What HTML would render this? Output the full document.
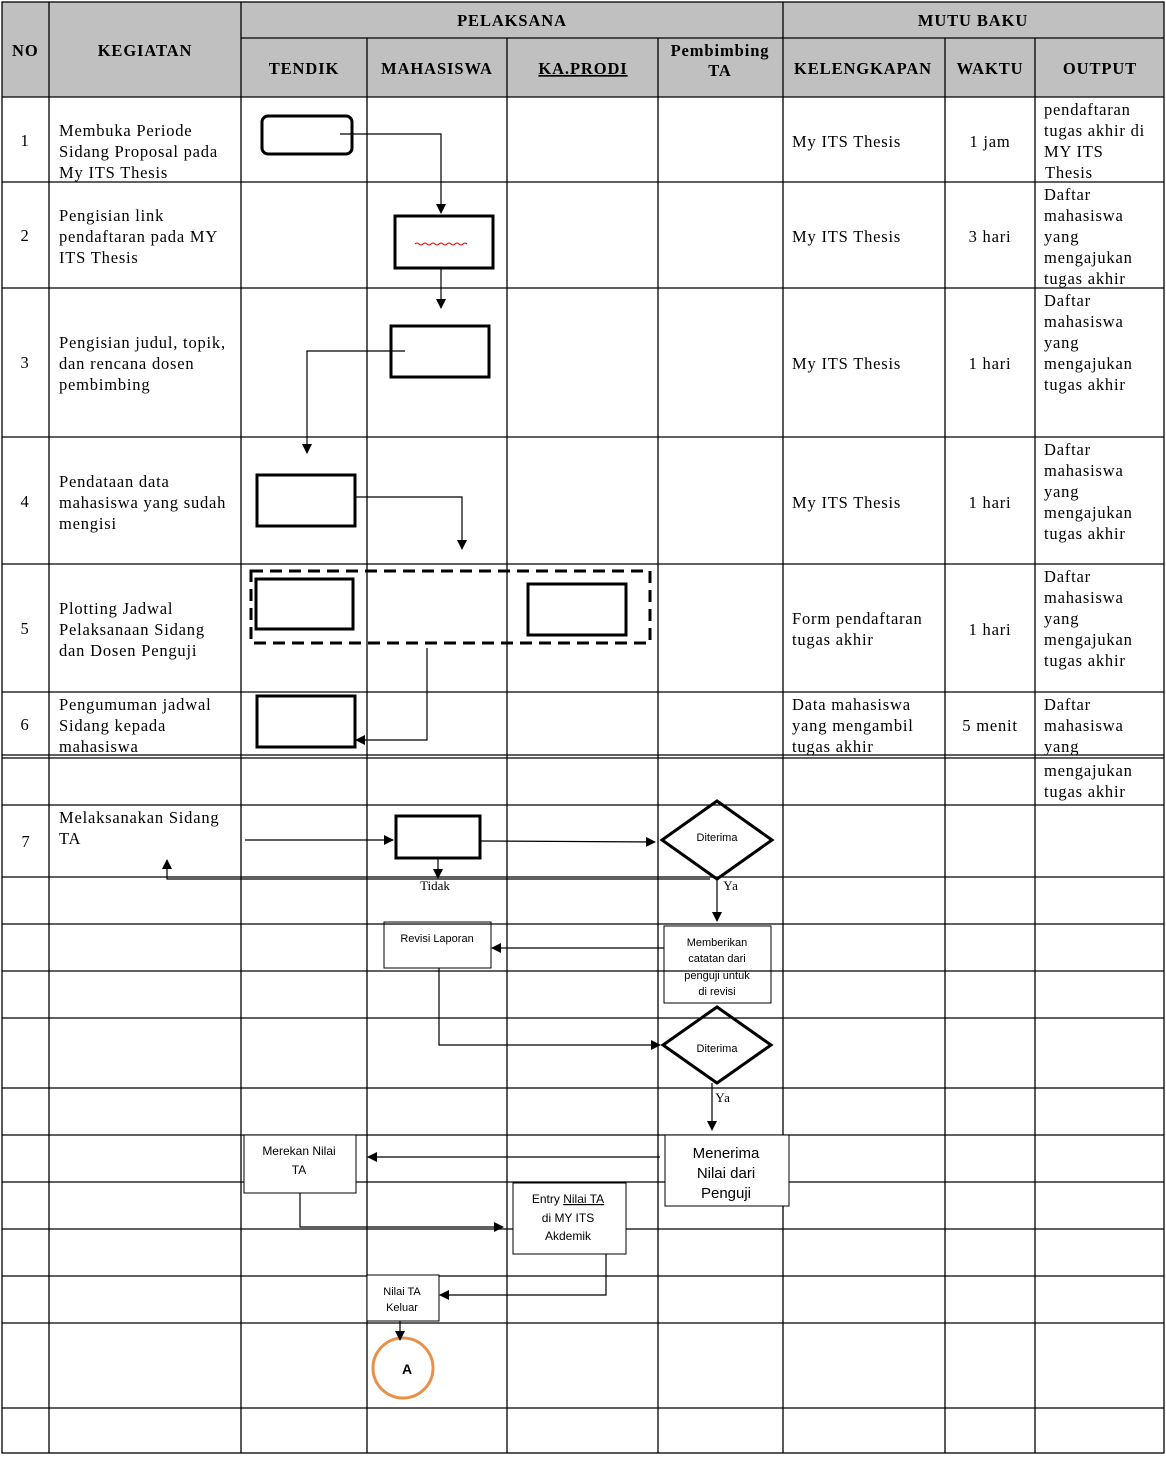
<!DOCTYPE html>
<html><head><meta charset="utf-8"><style>
html,body{margin:0;padding:0;background:#fff;}
svg{display:block;}
.s{font-family:"Liberation Serif",serif;font-size:16.5px;letter-spacing:0.8px;fill:#000;}
.h{font-family:"Liberation Serif",serif;font-size:16.5px;font-weight:bold;letter-spacing:0.9px;fill:#000;}
.a{font-family:"Liberation Sans",sans-serif;font-size:11px;fill:#000;}
.b{font-family:"Liberation Sans",sans-serif;font-size:15px;fill:#000;}
</style></head><body>
<svg width="1166" height="1460" viewBox="0 0 1166 1460" xmlns="http://www.w3.org/2000/svg">
<defs>
<marker id="ar" markerWidth="10" markerHeight="10" refX="9" refY="5" orient="auto" markerUnits="userSpaceOnUse">
<path d="M0,0 L10,5 L0,10 z" fill="#000"/></marker>
</defs>
<rect x="2" y="2" width="1162" height="95" fill="#c0c0c0"/>
<g stroke="#000" stroke-width="1.3" fill="none">
<rect x="2" y="2" width="1162" height="1451"/>
<line x1="241" y1="38" x2="1164" y2="38"/>
<line x1="2" y1="97" x2="1164" y2="97"/>
<line x1="2" y1="182" x2="1164" y2="182"/>
<line x1="2" y1="288" x2="1164" y2="288"/>
<line x1="2" y1="437" x2="1164" y2="437"/>
<line x1="2" y1="564" x2="1164" y2="564"/>
<line x1="2" y1="692" x2="1164" y2="692"/>
<line x1="2" y1="755" x2="1164" y2="755"/>
<line x1="2" y1="758" x2="1164" y2="758"/>
<line x1="2" y1="805" x2="1164" y2="805"/>
<line x1="2" y1="877" x2="1164" y2="877"/>
<line x1="2" y1="924" x2="1164" y2="924"/>
<line x1="2" y1="971" x2="1164" y2="971"/>
<line x1="2" y1="1018" x2="1164" y2="1018"/>
<line x1="2" y1="1088" x2="1164" y2="1088"/>
<line x1="2" y1="1135" x2="1164" y2="1135"/>
<line x1="2" y1="1182" x2="1164" y2="1182"/>
<line x1="2" y1="1229" x2="1164" y2="1229"/>
<line x1="2" y1="1276" x2="1164" y2="1276"/>
<line x1="2" y1="1323" x2="1164" y2="1323"/>
<line x1="2" y1="1408" x2="1164" y2="1408"/>
<line x1="49" y1="2" x2="49" y2="1453"/>
<line x1="241" y1="2" x2="241" y2="1453"/>
<line x1="367" y1="38" x2="367" y2="1453"/>
<line x1="507" y1="38" x2="507" y2="1453"/>
<line x1="658" y1="38" x2="658" y2="1453"/>
<line x1="783" y1="2" x2="783" y2="1453"/>
<line x1="945" y1="38" x2="945" y2="1453"/>
<line x1="1035" y1="38" x2="1035" y2="1453"/>
</g>
<text class="h" x="12" y="56">NO</text>
<text class="h" x="145" y="56" text-anchor="middle">KEGIATAN</text>
<text class="h" x="512" y="26" text-anchor="middle">PELAKSANA</text>
<text class="h" x="973" y="26" text-anchor="middle">MUTU BAKU</text>
<text class="h" x="304" y="74" text-anchor="middle">TENDIK</text>
<text class="h" x="437" y="74" text-anchor="middle">MAHASISWA</text>
<text class="h" x="583" y="74" text-anchor="middle" text-decoration="underline">KA.PRODI</text>
<text class="h" x="720" y="56" text-anchor="middle">Pembimbing</text>
<text class="h" x="720" y="76" text-anchor="middle">TA</text>
<text class="h" x="863" y="74" text-anchor="middle">KELENGKAPAN</text>
<text class="h" x="990" y="74" text-anchor="middle">WAKTU</text>
<text class="h" x="1100" y="74" text-anchor="middle">OUTPUT</text>
<g class="s" text-anchor="middle">
<text x="25" y="146">1</text><text x="25" y="241">2</text><text x="25" y="368">3</text>
<text x="25" y="507">4</text><text x="25" y="634">5</text><text x="25" y="730">6</text><text x="26" y="847">7</text>
</g>
<g class="s">
<text x="59" y="136">Membuka Periode</text><text x="59" y="157">Sidang Proposal  pada</text><text x="59" y="178">My ITS Thesis</text>
<text x="59" y="221">Pengisian link</text><text x="59" y="242">pendaftaran pada MY</text><text x="59" y="263">ITS Thesis</text>
<text x="59" y="348">Pengisian judul, topik,</text><text x="59" y="369">dan rencana dosen</text><text x="59" y="390">pembimbing</text>
<text x="59" y="487">Pendataan data</text><text x="59" y="508">mahasiswa yang sudah</text><text x="59" y="529">mengisi</text>
<text x="59" y="614">Plotting Jadwal</text><text x="59" y="635">Pelaksanaan Sidang</text><text x="59" y="656">dan Dosen Penguji</text>
<text x="59" y="710">Pengumuman jadwal</text><text x="59" y="731">Sidang kepada</text><text x="59" y="752">mahasiswa</text>
<text x="59" y="823">Melaksanakan Sidang</text><text x="59" y="844">TA</text>
</g>
<g class="s">
<text x="792" y="147">My ITS Thesis</text><text x="792" y="242">My ITS Thesis</text>
<text x="792" y="369">My ITS Thesis</text><text x="792" y="508">My ITS Thesis</text>
<text x="792" y="624">Form pendaftaran</text><text x="792" y="645">tugas akhir</text>
<text x="792" y="710">Data mahasiswa</text><text x="792" y="731">yang mengambil</text><text x="792" y="752">tugas akhir</text>
</g>
<g class="s" text-anchor="middle">
<text x="990" y="147">1 jam</text><text x="990" y="242">3 hari</text><text x="990" y="369">1 hari</text>
<text x="990" y="508">1 hari</text><text x="990" y="635">1 hari</text><text x="990" y="731">5 menit</text>
</g>
<g class="s">
<text x="1044" y="115">pendaftaran</text><text x="1044" y="136">tugas akhir di</text><text x="1044" y="157">MY ITS</text><text x="1045" y="178">Thesis</text>
<text x="1044" y="200">Daftar</text><text x="1044" y="221">mahasiswa</text><text x="1044" y="242">yang</text><text x="1044" y="263">mengajukan</text><text x="1044" y="284">tugas akhir</text>
<text x="1044" y="306">Daftar</text><text x="1044" y="327">mahasiswa</text><text x="1044" y="348">yang</text><text x="1044" y="369">mengajukan</text><text x="1044" y="390">tugas akhir</text>
<text x="1044" y="455">Daftar</text><text x="1044" y="476">mahasiswa</text><text x="1044" y="497">yang</text><text x="1044" y="518">mengajukan</text><text x="1044" y="539">tugas akhir</text>
<text x="1044" y="582">Daftar</text><text x="1044" y="603">mahasiswa</text><text x="1044" y="624">yang</text><text x="1044" y="645">mengajukan</text><text x="1044" y="666">tugas akhir</text>
<text x="1044" y="710">Daftar</text><text x="1044" y="731">mahasiswa</text><text x="1044" y="752">yang</text>
<text x="1044" y="776">mengajukan</text><text x="1044" y="797">tugas akhir</text>
</g>
<g stroke="#000" fill="none">
<rect x="262" y="116" width="90" height="38" rx="6" stroke-width="3"/>
<rect x="395" y="216" width="98" height="52" stroke-width="3"/>
<rect x="391" y="326" width="98" height="51" stroke-width="3"/>
<rect x="257" y="475" width="98" height="51" stroke-width="3"/>
<rect x="251" y="571" width="399" height="72" stroke-width="3" stroke-dasharray="12,7"/>
<rect x="256" y="579" width="97" height="50" stroke-width="3"/>
<rect x="528" y="584" width="98" height="51" stroke-width="3"/>
<rect x="257" y="696" width="98" height="51" stroke-width="3"/>
<rect x="396" y="816" width="84" height="42" stroke-width="3"/>
<polygon points="717,801 772,840 717,879 662,840" stroke-width="3"/>
<polygon points="717,1007 771,1045 717,1083 663,1045" stroke-width="3"/>
<rect x="384" y="922" width="107" height="46" stroke-width="1"/>
<rect x="664" y="926" width="107" height="77" stroke-width="1"/>
<rect x="665" y="1135" width="124" height="71" stroke-width="1" fill="#fff"/>
<rect x="244" y="1135" width="112" height="58" stroke-width="1" fill="#fff"/>
<rect x="513" y="1183" width="113" height="71" stroke-width="1" fill="#fff"/>
<rect x="367" y="1275" width="72" height="46" stroke-width="1" fill="#fff"/>
<circle cx="403" cy="1368" r="30" stroke="#e8914a" stroke-width="3"/>
</g>
<path d="M415,244 q2,-2 4,0 t4,0 t4,0 t4,0 t4,0 t4,0 t4,0 t4,0 t4,0 t4,0 t4,0 t4,0 t4,0" stroke="#d00" fill="none" stroke-width="1"/>
<g stroke="#000" stroke-width="1.2" fill="none" marker-end="url(#ar)">
<polyline points="340,134 441,134 441,213"/>
<line x1="441" y1="268" x2="441" y2="308"/>
<polyline points="405,351 307,351 307,453"/>
<polyline points="355,497 462,497 462,549"/>
<polyline points="427,648 427,740 356,740"/>
<line x1="245" y1="840" x2="393" y2="840"/>
<line x1="481" y1="841" x2="655" y2="842"/>
<line x1="438" y1="858" x2="438" y2="878"/>
<polyline points="710,879 167,879 167,860"/>
<line x1="717" y1="879" x2="717" y2="921"/>
<line x1="664" y1="948" x2="492" y2="948"/>
<polyline points="439,968 439,1045 660,1045"/>
<line x1="712" y1="1083" x2="712" y2="1130"/>
<line x1="660" y1="1157" x2="368" y2="1157"/>
<polyline points="300,1193 300,1227 503,1227"/>
<polyline points="606,1254 606,1295 440,1295"/>
<line x1="400" y1="1321" x2="400" y2="1340"/>
</g>
<text class="a" x="717" y="841" text-anchor="middle">Diterima</text>
<text class="a" x="717" y="1052" text-anchor="middle">Diterima</text>
<text class="s" x="435" y="890" text-anchor="middle" style="font-size:13px;letter-spacing:0">Tidak</text>
<text class="s" x="731" y="890" text-anchor="middle" style="font-size:13px">Ya</text>
<text class="s" x="723" y="1102" text-anchor="middle" style="font-size:13px">Ya</text>
<text class="a" x="437" y="942" text-anchor="middle">Revisi Laporan</text>
<g class="a" text-anchor="middle">
<text x="717" y="946">Memberikan</text><text x="717" y="962">catatan  dari</text><text x="717" y="979">penguji untuk</text><text x="717" y="995">di revisi</text>
</g>
<g class="b" text-anchor="middle">
<text x="726" y="1158">Menerima</text><text x="726" y="1178">Nilai dari</text><text x="726" y="1198">Penguji</text>
</g>
<g style="font-family:'Liberation Sans',sans-serif;font-size:12px" text-anchor="middle">
<text x="299" y="1155">Merekan Nilai</text><text x="299" y="1174">TA</text>
<text x="568" y="1203">Entry <tspan text-decoration="underline">Nilai  TA</tspan></text><text x="568" y="1222">di MY ITS</text><text x="568" y="1240">Akdemik</text>
<text x="402" y="1295" style="font-size:11px">Nilai TA</text><text x="402" y="1311" style="font-size:11px">Keluar</text>
</g>
<text x="407" y="1374" text-anchor="middle" style="font-family:'Liberation Sans',sans-serif;font-size:14px;font-weight:bold">A</text>
</svg>
</body></html>
